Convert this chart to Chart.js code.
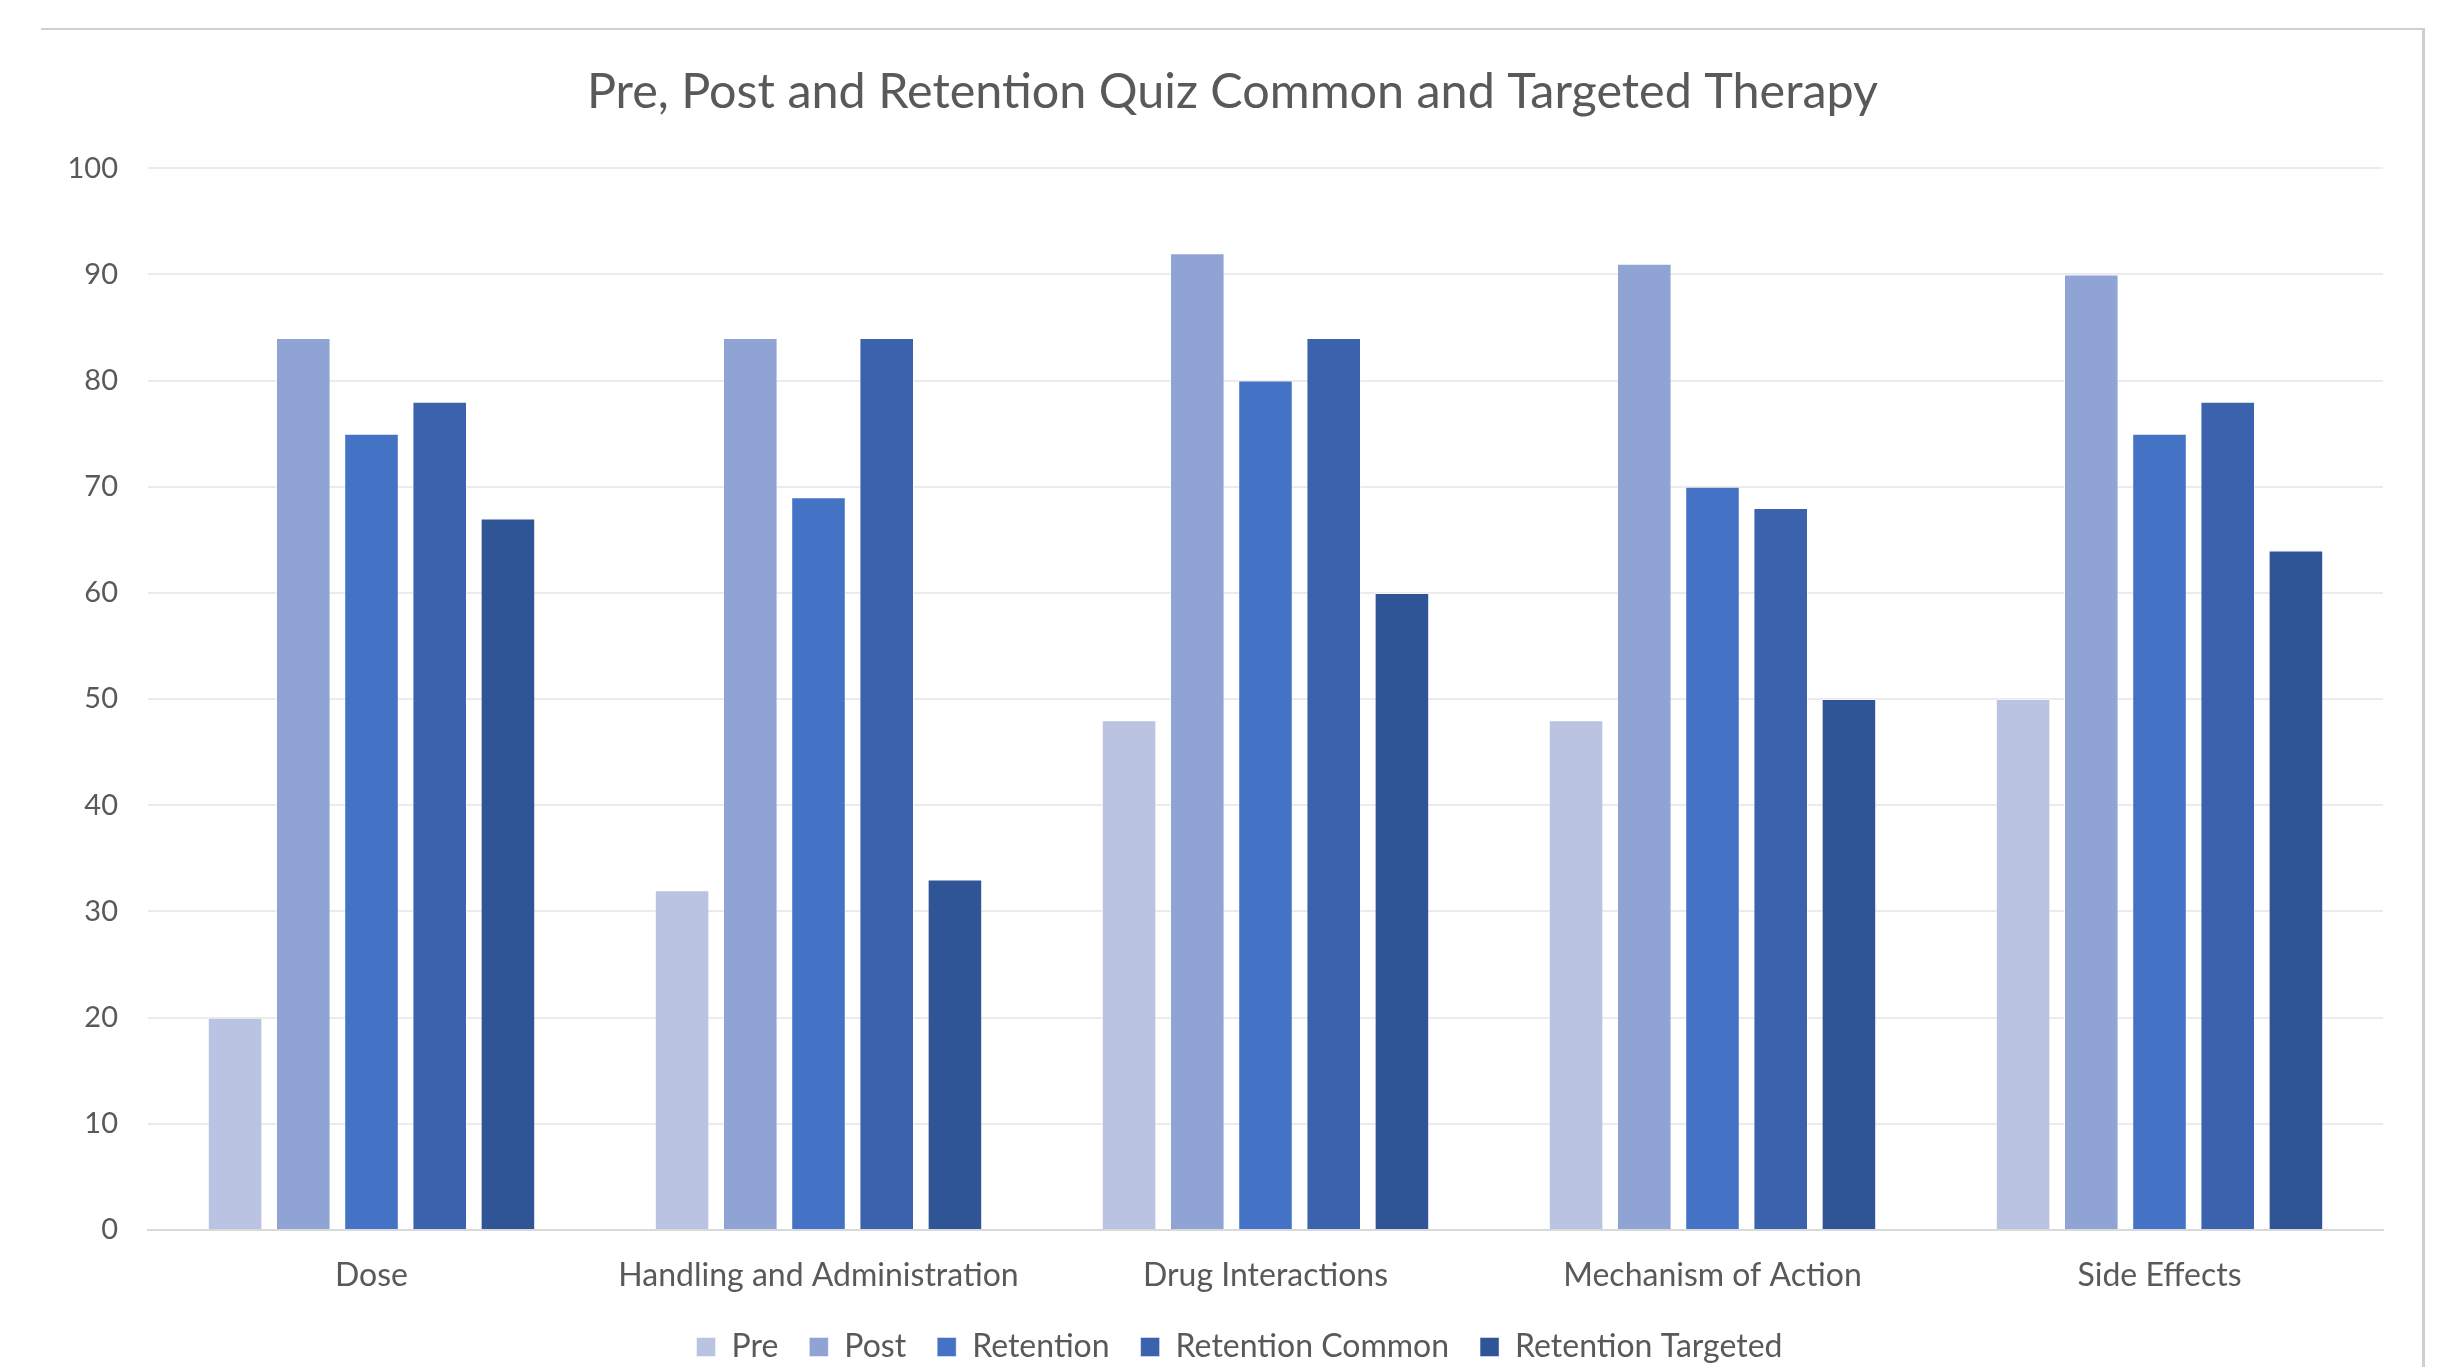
<!DOCTYPE html>
<html>
<head>
<meta charset="utf-8">
<script src="https://cdn.jsdelivr.net/npm/chart.js@4/dist/chart.umd.min.js"></script>
<style>
  html, body { margin: 0; padding: 0; background: #fff; }
  #wrap { position: relative; width: 2450px; height: 1367px; }
  #frame { position: absolute; left: 41px; top: 28px; width: 2381px; height: 1400px;
           border-top: 2px solid #cfcfcf; border-right: 3px solid #cfcfcf; }
  #chart { position: absolute; left: 0; top: 0; }
</style>
</head>
<body>
<div id="wrap">
  <div id="frame"></div>
  <canvas id="chart" width="2450" height="1367"></canvas>
</div>
<script>
const categories = ['Dose', 'Handling and Administration', 'Drug Interactions', 'Mechanism of Action', 'Side Effects'];
const pre = [20, 32, 48, 48, 50];
const post = [84, 84, 92, 91, 90];
const retention = [75, 69, 80, 70, 75];
const retentionCommon = [78, 84, 84, 68, 78];
const retentionTargeted = [67, 33, 60, 50, 64];
const yTicks = [0, 10, 20, 30, 40, 50, 60, 70, 80, 90, 100];

const textColor = '#595959';
const font = 'Lato, "Open Sans", sans-serif';

function series(label, data, color) {
  return {
    label: label,
    data: data,
    backgroundColor: color,
    borderColor: 'rgba(255,255,255,0.45)',
    borderWidth: 1,
    categoryPercentage: 0.763,
    barPercentage: 0.8
  };
}

// short legend box so the plot reaches down like the original,
// and title/legend centred on the whole chart frame rather than the plot
const boxTweaks = {
  id: 'boxTweaks',
  afterInit(chart) {
    const lg = chart.legend;
    const fit = lg.fit;
    lg.fit = function () {
      fit.call(this);
      this.height = 67;
    };
  },
  afterLayout(chart) {
    chart.titleBlock.left += 21;
    chart.titleBlock.right += 21;
    chart.legend.left += 28;
    chart.legend.right += 28;
  }
};

new Chart(document.getElementById('chart'), {
  type: 'bar',
  data: {
    labels: categories,
    datasets: [
      series('Pre', pre, '#bac4e2'),
      series('Post', post, '#8fa3d4'),
      series('Retention', retention, '#4472c4'),
      series('Retention Common', retentionCommon, '#3b63ad'),
      series('Retention Targeted', retentionTargeted, '#2f5597')
    ]
  },
  plugins: [boxTweaks],
  options: {
    responsive: false,
    animation: false,
    layout: { padding: { left: 40, right: 67, top: 30, bottom: 0 } },
    plugins: {
      title: {
        display: true,
        text: 'Pre, Post and Retention Quiz Common and Targeted Therapy',
        color: textColor,
        font: { family: font, size: 48.5, weight: 'normal' },
        padding: { top: 33, bottom: 47 }
      },
      legend: {
        position: 'bottom',
        labels: {
          color: textColor,
          font: { family: font, size: 32 },
          boxWidth: 19,
          boxHeight: 19,
          padding: 31
        }
      },
      tooltip: { enabled: false }
    },
    scales: {
      x: {
        grid: { display: false, drawTicks: false },
        border: { color: '#d9d9d9', width: 2 },
        ticks: { color: textColor, font: { family: font, size: 32 }, padding: 26, maxRotation: 0 },
        afterFit: s => { s.height = 70; }
      },
      y: {
        min: 0,
        max: 100,
        afterBuildTicks: s => { s.ticks = yTicks.map(v => ({ value: v })); },
        grid: { color: '#ebebeb', lineWidth: 2, drawTicks: false },
        border: { display: false },
        ticks: { color: textColor, font: { family: font, size: 29 }, padding: 30 },
        afterFit: s => { s.width = 108; }
      }
    }
  }
});
</script>
</body>
</html>
